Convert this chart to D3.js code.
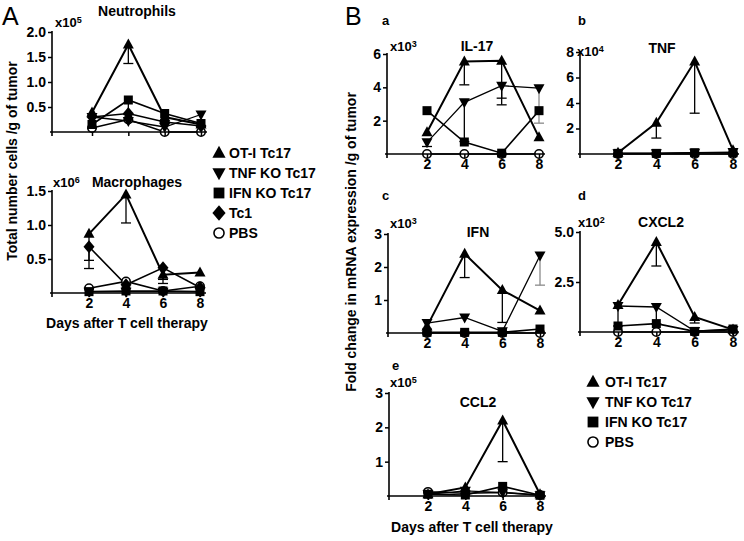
<!DOCTYPE html>
<html>
<head>
<meta charset="utf-8">
<script src="https://cdn.jsdelivr.net/npm/d3@7"></script>
<style>
  body { margin: 0; background: #fff; }
  svg text { font-family: "Liberation Sans", Arial, Helvetica, sans-serif; font-weight: bold; fill: #000; }
</style>
</head>
<body>
<div id="fig"></div>
<script>
// ---- data ----
var days = [2, 4, 6, 8];
var groupsA = ["OT-I Tc17", "TNF KO Tc17", "IFN KO Tc17", "Tc1", "PBS"];
var groupsB = ["OT-I Tc17", "TNF KO Tc17", "IFN KO Tc17", "PBS"];

// A: neutrophils, x10^5 cells /g
var neutroOT1 = [0.39, 1.75, 0.30, 0.15];
var neutroTNF = [0.30, 0.22, 0.10, 0.35];
var neutroIFN = [0.15, 0.64, 0.37, 0.17];
var neutroTc1 = [0.30, 0.37, 0.20, 0.12];
var neutroPBS = [0.08, 0.25, 0.00, 0.00];
var neutroErr = [[4, 1.75, 1.37], [4, 0.64, 0.35]];

// A: macrophages, x10^6 cells /g
var macroOT1 = [0.87, 1.45, 0.27, 0.30];
var macroTNF = [0.02, 0.02, 0.02, 0.02];
var macroIFN = [0.02, 0.03, 0.03, 0.02];
var macroTc1 = [0.68, 0.12, 0.37, 0.08];
var macroPBS = [0.07, 0.17, 0.03, 0.10];
var macroErr = [[2, 0.87, 0.48], [2, 0.68, 0.36], [4, 1.45, 1.03], [6, 0.37, 0.20], [6, 0.27, 0.14]];

// B a: IL-17, x10^3
var il17OT1 = [1.3, 5.55, 5.6, 1.0];
var il17TNF = [0.7, 3.1, 4.1, 3.95];
var il17IFN = [2.6, 0.72, 0.05, 2.6];
var il17PBS = [0, 0, 0, 0];
var il17Err = [[2, 0.7, 0.45], [4, 5.55, 4.15], [4, 3.1, 0.75], [6, 5.6, 3.35], [6, 4.1, 2.95], [8, 3.95, 1.85, "gray"]];

// B b: TNF, x10^4
var tnfOT1 = [0.1, 2.45, 7.25, 0.3];
var tnfTNF = [0.05, 0.05, 0.1, 0.15];
var tnfIFN = [0.05, 0.05, 0.1, 0.1];
var tnfPBS = [0, 0, 0, 0];
var tnfErr = [[4, 2.45, 1.25], [6, 7.25, 3.2]];

// B c: IFN, x10^3
var ifnOT1 = [0.2, 2.4, 1.3, 0.68];
var ifnTNF = [0.3, 0.47, 0.05, 2.35];
var ifnIFN = [0.02, 0.02, 0.02, 0.12];
var ifnPBS = [0, 0, 0, 0];
var ifnErr = [[4, 2.4, 1.68], [6, 1.3, 0.32], [8, 2.35, 1.45, "gray"]];

// B d: CXCL2, x10^2
var cxclOT1 = [1.35, 4.5, 0.75, 0.12];
var cxclTNF = [1.3, 1.25, 0.05, 0.1];
var cxclIFN = [0.3, 0.42, 0.03, 0.15];
var cxclPBS = [0, 0, 0, 0];
var cxclErr = [[2, 1.35, 0.3], [4, 4.5, 3.3], [4, 1.25, 0.4], [6, 0.75, 0.45]];

// B e: CCL2, x10^5
var ccl2OT1 = [0.05, 0.25, 2.2, 0.05];
var ccl2TNF = [0.05, 0.15, 0.1, 0.02];
var ccl2IFN = [0.05, 0.03, 0.28, 0.02];
var ccl2PBS = [0.12, 0.08, 0.1, 0.03];
var ccl2Err = [[6, 2.2, 1.0]];

// ---- look ----
var shapeOf = {"OT-I Tc17": "up", "TNF KO Tc17": "down", "IFN KO Tc17": "square", "Tc1": "diamond", "PBS": "circle"};
var widthOf = {"OT-I Tc17": 2, "TNF KO Tc17": 1.3, "IFN KO Tc17": 1.6, "Tc1": 1.6, "PBS": 1.6};

var svg = d3.select("#fig").append("svg")
    .attr("width", 744)
    .attr("height", 541);

function marker(g, shape, cx, cy, s) {
  if (shape == "up") {
    g.append("path").attr("d", "M" + cx + "," + (cy - s * 0.6) + "L" + (cx + s * 0.55) + "," + (cy + s * 0.4) + "L" + (cx - s * 0.55) + "," + (cy + s * 0.4) + "Z");
  } else if (shape == "down") {
    g.append("path").attr("d", "M" + cx + "," + (cy + s * 0.6) + "L" + (cx + s * 0.55) + "," + (cy - s * 0.4) + "L" + (cx - s * 0.55) + "," + (cy - s * 0.4) + "Z");
  } else if (shape == "square") {
    g.append("rect").attr("x", cx - s * 0.45).attr("y", cy - s * 0.45).attr("width", s * 0.9).attr("height", s * 0.9);
  } else if (shape == "diamond") {
    g.append("path").attr("d", "M" + cx + "," + (cy - s * 0.65) + "L" + (cx + s * 0.55) + "," + cy + "L" + cx + "," + (cy + s * 0.65) + "L" + (cx - s * 0.55) + "," + cy + "Z");
  } else {
    g.append("circle").attr("cx", cx).attr("cy", cy).attr("r", s * 0.42)
      .style("fill", "#fff").style("stroke", "#000").style("stroke-width", 1.6);
  }
}

function expLabel(x, y, e) {
  var t = svg.append("text").attr("x", x).attr("y", y).attr("dy", "0.35em").style("font-size", "13px").text("x10");
  t.append("tspan").attr("dy", "-0.45em").style("font-size", "9px").text(e);
}

function drawPanel(p) {
  var g = svg.append("g");
  var x = d3.scaleLinear().domain([2, 8]).range([p.d2, p.d8]);
  var y = d3.scaleLinear().domain([0, p.max]).range([p.base, p.top]);
  var line = d3.line()
    .x(function(d, i) { return x(days[i]); })
    .y(function(d) { return y(d); });

  // draw PBS first so the filled markers sit on top
  var order = p.groups.slice().reverse();

  order.forEach(function(name) {
    g.append("path")
      .datum(p.series[name])
      .attr("d", line)
      .style("fill", "none")
      .style("stroke", "#000")
      .style("stroke-width", widthOf[name]);
  });

  // error bars (lower side only)
  p.err.forEach(function(e) {
    var col = e[3] == "gray" ? "#8a8a8a" : "#000";
    g.append("line").attr("x1", x(e[0])).attr("x2", x(e[0]))
      .attr("y1", y(e[1])).attr("y2", y(e[2]))
      .style("stroke", col).style("stroke-width", 1.3);
    g.append("line").attr("x1", x(e[0]) - 5).attr("x2", x(e[0]) + 5)
      .attr("y1", y(e[2])).attr("y2", y(e[2]))
      .style("stroke", col).style("stroke-width", 1.3);
  });

  order.forEach(function(name) {
    var mg = g.append("g").style("fill", "#000");
    p.series[name].forEach(function(v, i) {
      marker(mg, shapeOf[name], x(days[i]), y(v), 10);
    });
  });

  // axes
  var yAxis = g.append("g")
    .attr("transform", "translate(" + p.ax + ",0)")
    .call(d3.axisLeft(y).tickValues(p.ticks).tickSize(4).tickPadding(2).tickFormat(d3.format(p.fmt)));
  yAxis.select(".domain").remove();
  var xAxis = g.append("g")
    .attr("transform", "translate(0," + p.base + ")")
    .call(d3.axisBottom(x).tickValues(days).tickSize(4).tickPadding(1)
      .tickFormat(p.xlabels ? d3.format("d") : function() { return ""; }));
  xAxis.select(".domain").remove();
  g.selectAll(".tick line").style("stroke", "#000").style("stroke-width", 1.5);
  g.selectAll(".tick text").style("font-size", "14px").style("font-family", null);

  g.append("line").attr("x1", p.ax).attr("x2", p.ax).attr("y1", p.top - 1).attr("y2", p.base + 4)
    .style("stroke", "#000").style("stroke-width", 1.6);
  g.append("line").attr("x1", p.ax - 2).attr("x2", p.d8 + 6).attr("y1", p.base).attr("y2", p.base)
    .style("stroke", "#000").style("stroke-width", 1.6);

  svg.append("text").attr("x", p.titleX).attr("y", p.titleY).attr("dy", "0.35em")
    .attr("text-anchor", "middle").style("font-size", "14px").text(p.title);
  expLabel(p.expX, p.expY, p.exp);
  if (p.letter) {
    svg.append("text").attr("x", p.letterX).attr("y", p.letterY).attr("dy", "0.35em")
      .style("font-size", "13px").text(p.letter);
  }
}

var panels = [
  {title: "Neutrophils", exp: "5", groups: groupsA,
   series: {"OT-I Tc17": neutroOT1, "TNF KO Tc17": neutroTNF, "IFN KO Tc17": neutroIFN, "Tc1": neutroTc1, "PBS": neutroPBS},
   err: neutroErr, max: 2.0, ticks: [0.5, 1.0, 1.5, 2.0], fmt: ".1f", xlabels: false,
   ax: 52, d2: 92, d8: 201, base: 132, top: 32, titleX: 137, titleY: 11, expX: 55, expY: 22},
  {title: "Macrophages", exp: "6", groups: groupsA,
   series: {"OT-I Tc17": macroOT1, "TNF KO Tc17": macroTNF, "IFN KO Tc17": macroIFN, "Tc1": macroTc1, "PBS": macroPBS},
   err: macroErr, max: 1.5, ticks: [0.5, 1.0, 1.5], fmt: ".1f", xlabels: true,
   ax: 52, d2: 89, d8: 200, base: 293, top: 191, titleX: 137, titleY: 182, expX: 53, expY: 182},
  {title: "IL-17", exp: "3", groups: groupsB, letter: "a", letterX: 382, letterY: 20,
   series: {"OT-I Tc17": il17OT1, "TNF KO Tc17": il17TNF, "IFN KO Tc17": il17IFN, "PBS": il17PBS},
   err: il17Err, max: 6, ticks: [2, 4, 6], fmt: "d", xlabels: true,
   ax: 387, d2: 427, d8: 539, base: 154, top: 54, titleX: 477, titleY: 46, expX: 390, expY: 46},
  {title: "TNF", exp: "4", groups: groupsB, letter: "b", letterX: 578, letterY: 20,
   series: {"OT-I Tc17": tnfOT1, "TNF KO Tc17": tnfTNF, "IFN KO Tc17": tnfIFN, "PBS": tnfPBS},
   err: tnfErr, max: 8, ticks: [2, 4, 6, 8], fmt: "d", xlabels: true,
   ax: 580, d2: 618, d8: 733, base: 154, top: 52, titleX: 662, titleY: 48, expX: 577, expY: 51},
  {title: "IFN", exp: "3", groups: groupsB, letter: "c", letterX: 382, letterY: 195,
   series: {"OT-I Tc17": ifnOT1, "TNF KO Tc17": ifnTNF, "IFN KO Tc17": ifnIFN, "PBS": ifnPBS},
   err: ifnErr, max: 3, ticks: [1, 2, 3], fmt: "d", xlabels: true,
   ax: 388, d2: 427, d8: 540, base: 333, top: 234, titleX: 478, titleY: 232, expX: 390, expY: 223},
  {title: "CXCL2", exp: "2", groups: groupsB, letter: "d", letterX: 578, letterY: 195,
   series: {"OT-I Tc17": cxclOT1, "TNF KO Tc17": cxclTNF, "IFN KO Tc17": cxclIFN, "PBS": cxclPBS},
   err: cxclErr, max: 5, ticks: [2.5, 5.0], fmt: ".1f", xlabels: true,
   ax: 580, d2: 618, d8: 733, base: 332, top: 232, titleX: 661, titleY: 222, expX: 578, expY: 222},
  {title: "CCL2", exp: "5", groups: groupsB, letter: "e", letterX: 392, letterY: 365,
   series: {"OT-I Tc17": ccl2OT1, "TNF KO Tc17": ccl2TNF, "IFN KO Tc17": ccl2IFN, "PBS": ccl2PBS},
   err: ccl2Err, max: 3, ticks: [1, 2, 3], fmt: "d", xlabels: true,
   ax: 389, d2: 428, d8: 540, base: 496, top: 393, titleX: 478, titleY: 402, expX: 390, expY: 382}
];

panels.forEach(drawPanel);

// legends
function legend(names, mx, tx, y0, step) {
  names.forEach(function(name, i) {
    var g = svg.append("g").style("fill", "#000");
    marker(g, shapeOf[name], mx, y0 + i * step, 12);
    svg.append("text").attr("x", tx).attr("y", y0 + i * step).attr("dy", "0.35em")
      .style("font-size", "14px").text(name);
  });
}
legend(groupsA, 219, 229, 153, 20);
legend(groupsB, 593, 605, 382, 20);

// panel letters and shared labels
svg.append("text").attr("x", 2).attr("y", 25).style("font-size", "25px").style("font-weight", "normal").text("A");
svg.append("text").attr("x", 345).attr("y", 25).style("font-size", "25px").style("font-weight", "normal").text("B");

svg.append("text").attr("x", 127).attr("y", 323).attr("dy", "0.35em").attr("text-anchor", "middle")
  .style("font-size", "14px").text("Days after T cell therapy");
svg.append("text").attr("x", 472).attr("y", 527).attr("dy", "0.35em").attr("text-anchor", "middle")
  .style("font-size", "14px").text("Days after T cell therapy");

svg.append("text").attr("transform", "translate(17,161) rotate(-90)").attr("text-anchor", "middle")
  .style("font-size", "14px").text("Total number cells /g of tumor");
svg.append("text").attr("transform", "translate(356,242) rotate(-90)").attr("text-anchor", "middle")
  .style("font-size", "14px").text("Fold change in mRNA expression /g of tumor");
</script>
</body>
</html>
